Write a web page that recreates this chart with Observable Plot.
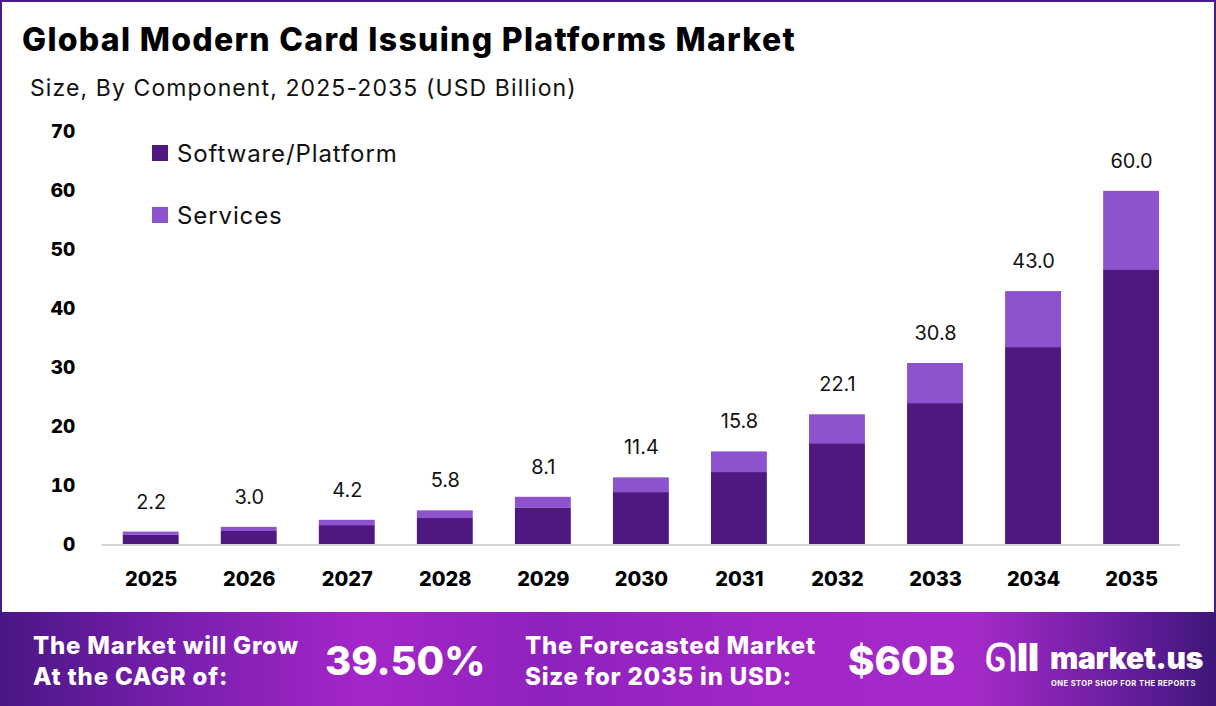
<!DOCTYPE html>
<html>
<head>
<meta charset="utf-8">
<script src="https://cdn.jsdelivr.net/npm/d3@7"></script>
<script src="https://cdn.jsdelivr.net/npm/@observablehq/plot@0.6"></script>
<style>
  html, body { margin: 0; padding: 0; background: #fff; }
  body { width: 1216px; height: 706px; overflow: hidden; font-family: Inter, "Open Sans", sans-serif; }
  #frame { position: relative; width: 1216px; height: 706px; box-sizing: border-box; border: 2px solid #4a1a8a; border-bottom: none; }
  #title { position: absolute; left: 20px; top: 18px; font-size: 32px; font-weight: 800; color: #000; letter-spacing: 1.3px; }
  #subtitle { position: absolute; left: 28px; top: 72px; font-size: 23px; font-weight: 400; color: #111; letter-spacing: 1.1px; }
  #chart { position: absolute; left: 0; top: 108px; }
  #legend { position: absolute; left: 150px; top: 136px; font-size: 24px; color: #111; letter-spacing: 0.9px; }
  #legend div { display: flex; align-items: center; height: 30px; margin-bottom: 32px; }
  #legend span.sw { display: inline-block; width: 16px; height: 16px; margin-right: 9px; }
  #footer { position: absolute; left: -2px; top: 610px; width: 1216px; height: 96px;
    background: linear-gradient(90deg, #4a1684 0%, #7a1fb0 15%, #a526c8 30%, #8e22bd 45%, #a026c6 62%, #a52ac9 80%, #6a1ea0 92%, #3e1678 100%); color: #fff; }
  .ft { position: absolute; font-weight: 800; }
  .small { font-size: 24px; line-height: 31px; letter-spacing: 0.8px; }
  .big { font-size: 40px; }
</style>
</head>
<body>
<div id="frame">
  <div id="title">Global Modern Card Issuing Platforms Market</div>
  <div id="subtitle">Size, By Component, 2025-2035 (USD Billion)</div>
  <div id="chart"></div>
  <div id="legend"></div>
  <div id="footer">
    <div class="ft small" style="left:33px; top:18px;">The Market will Grow<br>At the CAGR of:</div>
    <div class="ft big" style="left:325px; top:24px;">39.50%</div>
    <div class="ft small" style="left:525px; top:18px;">The Forecasted Market<br>Size for 2035 in USD:</div>
    <div class="ft big" style="left:848px; top:24px;">$60B</div>
    <div class="ft" style="left:985px; top:22px; font-size:38px; font-weight:900;">ᘏII</div>
    <div class="ft" style="left:1050px; top:28px; font-size:30px; font-weight:900; letter-spacing:-0.3px;">market.us</div>
    <div class="ft" style="left:1051px; top:67px; font-size:7.6px; font-weight:700; letter-spacing:0.4px;">ONE STOP SHOP FOR THE REPORTS</div>
  </div>
</div>
<script>
const years = ["2025","2026","2027","2028","2029","2030","2031","2032","2033","2034","2035"];
const software = [1.7, 2.3, 3.3, 4.5, 6.3, 8.9, 12.3, 17.2, 24.0, 33.5, 46.7];
const services = [0.5, 0.7, 0.9, 1.3, 1.8, 2.5, 3.5, 4.9, 6.8, 9.5, 13.3];
const totals   = [2.2, 3.0, 4.2, 5.8, 8.1, 11.4, 15.8, 22.1, 30.8, 43.0, 60.0];
const seriesNames = ["Software/Platform", "Services"];
const seriesColors = ["#4f1780", "#8d52cd"];
const yTicks = [0, 10, 20, 30, 40, 50, 60, 70];

const rows = [];
years.forEach((y, i) => {
  rows.push({year: y, series: seriesNames[0], value: software[i]});
  rows.push({year: y, series: seriesNames[1], value: services[i]});
});
const totalRows = years.map((y, i) => ({year: y, total: totals[i]}));

const chart = Plot.plot({
  width: 1216,
  height: 502,
  marginLeft: 100,
  marginRight: 34,
  marginTop: 22,
  marginBottom: 66,
  style: {fontFamily: "Inter, sans-serif", background: "transparent", overflow: "visible"},
  x: {domain: years, paddingInner: 0.43, paddingOuter: 0.215, round: false, label: null},
  y: {domain: [0, 70], label: null},
  color: {domain: seriesNames, range: seriesColors},
  marks: [
    Plot.axisY({ticks: yTicks, tickSize: 0, tickPadding: 27, fontSize: 19, fontWeight: 800, fill: "#000", label: null}),
    Plot.axisX({tickSize: 0, tickPadding: 27, fontSize: 20, fontWeight: 800, fill: "#000", label: null}),
    Plot.barY(rows, {x: "year", y: "value", fill: "series", style: "filter: drop-shadow(2px 1px 2px rgba(0,0,0,0.25))"}),
    Plot.ruleY([0], {stroke: "#d6d6d6", strokeWidth: 2}),
    Plot.text(totalRows, {x: "year", y: "total", text: d => d.total.toFixed(1), dy: -30, fontSize: 20, fill: "#111"})
  ]
});
document.getElementById("chart").appendChild(chart);

const legend = document.getElementById("legend");
seriesNames.forEach((n, i) => {
  const d = document.createElement("div");
  d.innerHTML = `<span class="sw" style="background:${seriesColors[i]}"></span>${n}`;
  legend.appendChild(d);
});
</script>
</body>
</html>
